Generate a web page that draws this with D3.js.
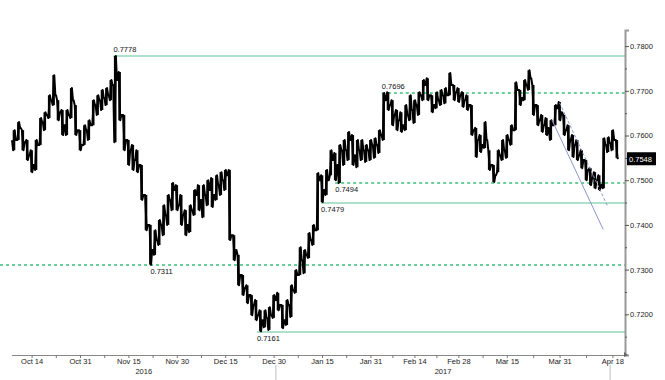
<!DOCTYPE html>
<html>
<head>
<meta charset="utf-8">
<script src="https://cdn.jsdelivr.net/npm/d3@7"></script>
<style>
  body { margin: 0; background: #fff; }
  text { font-family: "Liberation Sans", Arial, sans-serif; }
</style>
</head>
<body>
<script>
// Daily high / low / close, one entry per trading day (Oct 10 2016 .. Apr 19 2017)
const high = [
  0.7612, 0.7630, 0.7612, 0.7590, 0.7567, 0.7590, 0.7639, 0.7652, 0.7690, 0.7735,
  0.7679, 0.7657, 0.7657, 0.7706, 0.7668, 0.7612, 0.7623, 0.7634, 0.7679, 0.7690,
  0.7702, 0.7706, 0.7724, 0.7778, 0.7742, 0.7646, 0.7590, 0.7579, 0.7567, 0.7534,
  0.7467, 0.7400, 0.7388, 0.7411, 0.7444, 0.7467, 0.7494, 0.7489, 0.7467, 0.7433,
  0.7444, 0.7478, 0.7489, 0.7489, 0.7500, 0.7505, 0.7511, 0.7518, 0.7523, 0.7523,
  0.7377, 0.7333, 0.7288, 0.7265, 0.7243, 0.7232, 0.7209, 0.7209, 0.7216, 0.7243,
  0.7248, 0.7221, 0.7232, 0.7265, 0.7299, 0.7350, 0.7344, 0.7382, 0.7400, 0.7516,
  0.7511, 0.7523, 0.7567, 0.7561, 0.7579, 0.7590, 0.7608, 0.7601, 0.7590, 0.7590,
  0.7579, 0.7590, 0.7594, 0.7612, 0.7695, 0.7697, 0.7679, 0.7657, 0.7652, 0.7668,
  0.7690, 0.7679, 0.7697, 0.7724, 0.7728, 0.7690, 0.7697, 0.7702, 0.7706, 0.7740,
  0.7713, 0.7706, 0.7697, 0.7690, 0.7668, 0.7617, 0.7601, 0.7630, 0.7567, 0.7534,
  0.7567, 0.7590, 0.7601, 0.7623, 0.7719, 0.7702, 0.7724, 0.7746, 0.7713, 0.7668,
  0.7646, 0.7639, 0.7634, 0.7668, 0.7675, 0.7646, 0.7623, 0.7601, 0.7590, 0.7567,
  0.7545, 0.7527, 0.7518, 0.7511, 0.7594, 0.7596, 0.7612, 0.7590
];
const low = [
  0.7567, 0.7590, 0.7567, 0.7545, 0.7518, 0.7523, 0.7579, 0.7612, 0.7639, 0.7668,
  0.7634, 0.7601, 0.7601, 0.7639, 0.7601, 0.7567, 0.7579, 0.7590, 0.7623, 0.7646,
  0.7657, 0.7668, 0.7679, 0.7585, 0.7634, 0.7567, 0.7534, 0.7523, 0.7518, 0.7456,
  0.7388, 0.7311, 0.7333, 0.7355, 0.7377, 0.7400, 0.7433, 0.7433, 0.7400, 0.7377,
  0.7384, 0.7422, 0.7433, 0.7417, 0.7444, 0.7440, 0.7456, 0.7467, 0.7478, 0.7366,
  0.7321, 0.7265, 0.7243, 0.7225, 0.7198, 0.7187, 0.7162, 0.7171, 0.7165, 0.7192,
  0.7209, 0.7169, 0.7176, 0.7194, 0.7248, 0.7288, 0.7292, 0.7326, 0.7355, 0.7388,
  0.7451, 0.7467, 0.7511, 0.7500, 0.7494, 0.7534, 0.7545, 0.7534, 0.7529, 0.7545,
  0.7541, 0.7545, 0.7550, 0.7561, 0.7590, 0.7657, 0.7623, 0.7612, 0.7608, 0.7612,
  0.7634, 0.7628, 0.7646, 0.7679, 0.7679, 0.7652, 0.7661, 0.7668, 0.7672, 0.7690,
  0.7679, 0.7675, 0.7664, 0.7657, 0.7601, 0.7552, 0.7563, 0.7572, 0.7523, 0.7496,
  0.7518, 0.7545, 0.7550, 0.7579, 0.7612, 0.7668, 0.7679, 0.7702, 0.7646, 0.7623,
  0.7608, 0.7601, 0.7590, 0.7623, 0.7634, 0.7601, 0.7567, 0.7552, 0.7545, 0.7527,
  0.7500, 0.7489, 0.7482, 0.7478, 0.7482, 0.7563, 0.7567, 0.7550
];
const close = [
  0.7590, 0.7617, 0.7585, 0.7556, 0.7534, 0.7579, 0.7630, 0.7646, 0.7679, 0.7690,
  0.7652, 0.7623, 0.7646, 0.7679, 0.7612, 0.7579, 0.7612, 0.7623, 0.7668, 0.7679,
  0.7684, 0.7690, 0.7713, 0.7724, 0.7646, 0.7590, 0.7567, 0.7545, 0.7534, 0.7467,
  0.7400, 0.7344, 0.7366, 0.7400, 0.7422, 0.7456, 0.7478, 0.7444, 0.7422, 0.7400,
  0.7433, 0.7467, 0.7456, 0.7467, 0.7478, 0.7467, 0.7489, 0.7500, 0.7511, 0.7377,
  0.7344, 0.7288, 0.7259, 0.7243, 0.7221, 0.7198, 0.7187, 0.7192, 0.7198, 0.7232,
  0.7221, 0.7187, 0.7221, 0.7254, 0.7288, 0.7321, 0.7333, 0.7366, 0.7388, 0.7500,
  0.7478, 0.7500, 0.7545, 0.7534, 0.7567, 0.7567, 0.7590, 0.7556, 0.7567, 0.7567,
  0.7567, 0.7579, 0.7579, 0.7601, 0.7679, 0.7668, 0.7646, 0.7634, 0.7623, 0.7646,
  0.7657, 0.7668, 0.7690, 0.7713, 0.7690, 0.7668, 0.7679, 0.7690, 0.7690, 0.7713,
  0.7697, 0.7690, 0.7679, 0.7668, 0.7612, 0.7590, 0.7579, 0.7590, 0.7534, 0.7511,
  0.7556, 0.7567, 0.7590, 0.7612, 0.7702, 0.7684, 0.7713, 0.7728, 0.7668, 0.7634,
  0.7623, 0.7617, 0.7623, 0.7661, 0.7652, 0.7612, 0.7590, 0.7579, 0.7556, 0.7545,
  0.7523, 0.7505, 0.7500, 0.7489, 0.7579, 0.7583, 0.7590, 0.7548
];
const lastPrice = "0.7548";

// x axis labels sit on trading-day indices
const tickLabels = ["Oct 14", "Oct 31", "Nov 15", "Nov 30", "Dec 15", "Dec 30", "Jan 15",
                    "Jan 31", "Feb 14", "Feb 28", "Mar 15", "Mar 31", "Apr 18"];
const tickIdx = [4, 15, 26, 37, 48, 59, 70, 81, 91, 101, 112, 124, 136];
const yearLabels = ["2016", "2017"];
const yearIdx = [29.5, 97.5];
const yearSplitIdx = [59.5, 135.5];

const yTicks = [0.72, 0.73, 0.74, 0.75, 0.76, 0.77, 0.78];
const yMinorTicks = [0.715, 0.725, 0.735, 0.745, 0.755, 0.765, 0.775];

// horizontal support / resistance levels
const levelValues = [0.7778, 0.7696, 0.7494, 0.7449, 0.7311, 0.7161];
const levelText   = ["0.7778", "0.7696", "0.7494", "0.7479", "0.7311", "0.7161"];
const levelStart  = [22.6, 83.6, 73.0, 69.8, -3.2, 55.2];
const levelLabelAt = [22.6, 83.6, 73.0, 69.8, 31.0, 55.2];
const levelDashed = [false, true, true, false, true, false];
const levelAbove  = [true, true, false, false, false, false];

// trend channel lines [startIdx, startVal, endIdx, endVal]
const trendSolid  = [122.3, 0.7634, 133.9, 0.7390];
const trendDashed = [124.0, 0.7673, 134.9, 0.7442];

const width = 665, height = 380;

const svg = d3.select("body").append("svg")
  .attr("width", width)
  .attr("height", height);

const x = d3.scaleLinear().domain([0, 137]).range([14, 616.8]);
const y = d3.scaleLinear().domain([0.7109, 0.7836]).range([355, 30]);
const axisX = 625;

// level lines
levelValues.forEach((v, i) => {
  svg.append("line")
    .attr("x1", Math.max(0, x(levelStart[i]))).attr("x2", axisX)
    .attr("y1", Math.round(y(v))).attr("y2", Math.round(y(v)))
    .attr("stroke", levelDashed[i] ? "#3abf7a" : "#aee0cb")
    .attr("stroke-width", levelDashed[i] ? 1.4 : 2)
    .attr("stroke-dasharray", levelDashed[i] ? "3,3" : null);
  svg.append("text")
    .attr("x", x(levelLabelAt[i]))
    .attr("y", y(v) + (levelAbove[i] ? -4 : 9))
    .attr("font-size", 7.5)
    .attr("fill", "#111")
    .text(levelText[i]);
});

// price path: open -> high/low -> close within each day
const pts = [];
close.forEach((c, i) => {
  const o = i === 0 ? (high[0] + low[0]) / 2 : close[i - 1];
  pts.push([i - 0.45, o]);
  if (c >= o) { pts.push([i - 0.2, low[i]]); pts.push([i + 0.15, high[i]]); }
  else { pts.push([i - 0.2, high[i]]); pts.push([i + 0.15, low[i]]); }
  pts.push([i + 0.4, c]);
});
svg.append("path")
  .datum(pts)
  .attr("fill", "none")
  .attr("stroke", "#000")
  .attr("stroke-width", 2)
  .attr("stroke-linejoin", "round")
  .attr("d", d3.line().x(d => x(d[0])).y(d => y(d[1])));

svg.selectAll(".hl")
  .data(close)
  .enter().append("line")
  .attr("x1", (d, i) => x(i)).attr("x2", (d, i) => x(i))
  .attr("y1", (d, i) => y(high[i])).attr("y2", (d, i) => y(low[i]))
  .attr("stroke", "#000")
  .attr("stroke-width", 2.6);

// trend lines
[[trendSolid, null], [trendDashed, "3,2"]].forEach(([t, dash]) => {
  svg.append("line")
    .attr("x1", x(t[0])).attr("y1", y(t[1]))
    .attr("x2", x(t[2])).attr("y2", y(t[3]))
    .attr("stroke", "#8d97c9")
    .attr("stroke-width", 1)
    .attr("stroke-dasharray", dash);
});

// y axis
const yAxisG = svg.append("g")
  .attr("transform", `translate(${axisX},0)`)
  .call(d3.axisRight(y).tickValues(yTicks).tickSize(4).tickPadding(1).tickFormat(d3.format(".4f")));
svg.append("g")
  .attr("transform", `translate(${axisX},0)`)
  .call(d3.axisRight(y).tickValues(yMinorTicks).tickSize(2).tickFormat(""))
  .call(g => g.select(".domain").remove());
yAxisG.select(".domain").attr("stroke", "#999").attr("stroke-width", 2);
svg.selectAll("g.tick line").attr("stroke", "#555");
yAxisG.selectAll("text").attr("font-size", 7.5).attr("fill", "#222")
  .attr("font-family", "Liberation Sans, Arial, sans-serif");

// last price tag
svg.append("rect")
  .attr("x", axisX + 2).attr("y", y(close[close.length - 1]) - 6.5)
  .attr("width", 29).attr("height", 13)
  .attr("fill", "#000");
svg.append("text")
  .attr("x", axisX + 4).attr("y", y(close[close.length - 1]) + 3)
  .attr("font-size", 7.5).attr("fill", "#fff")
  .text(lastPrice);

// x axis
const xAxisG = svg.append("g")
  .attr("transform", "translate(0,355)")
  .call(d3.axisBottom(x).tickValues(tickIdx).tickSize(3).tickPadding(1)
    .tickFormat((d, i) => tickLabels[i]));
xAxisG.select(".domain").attr("stroke", "#888")
  .attr("d", `M${x(0) - 2},0.5H${axisX}`);
xAxisG.selectAll("text").attr("font-size", 7.5).attr("fill", "#222")
  .attr("font-family", "Liberation Sans, Arial, sans-serif");
xAxisG.selectAll("line").attr("stroke", "#777");

const minorIdx = tickIdx.slice(1).map((d, i) => (d + tickIdx[i]) / 2);
svg.append("g")
  .attr("transform", "translate(0,355)")
  .call(d3.axisBottom(x).tickValues(minorIdx).tickSize(3).tickFormat(""))
  .call(g => g.select(".domain").remove())
  .selectAll("line").attr("stroke", "#777");

// axis end marker
svg.append("path")
  .attr("d", `M${axisX - 1},352L${axisX + 3},355L${axisX - 1},357Z`)
  .attr("fill", "#666");

// year labels and separators
yearLabels.forEach((t, i) => {
  svg.append("text")
    .attr("x", x(yearIdx[i])).attr("y", 374)
    .attr("text-anchor", "middle")
    .attr("font-size", 7.5).attr("fill", "#222")
    .text(t);
});
yearSplitIdx.forEach(d => {
  svg.append("line")
    .attr("x1", x(d)).attr("x2", x(d))
    .attr("y1", 365).attr("y2", 380)
    .attr("stroke", "#d4d4d4").attr("stroke-width", 1.5);
});
</script>
</body>
</html>
